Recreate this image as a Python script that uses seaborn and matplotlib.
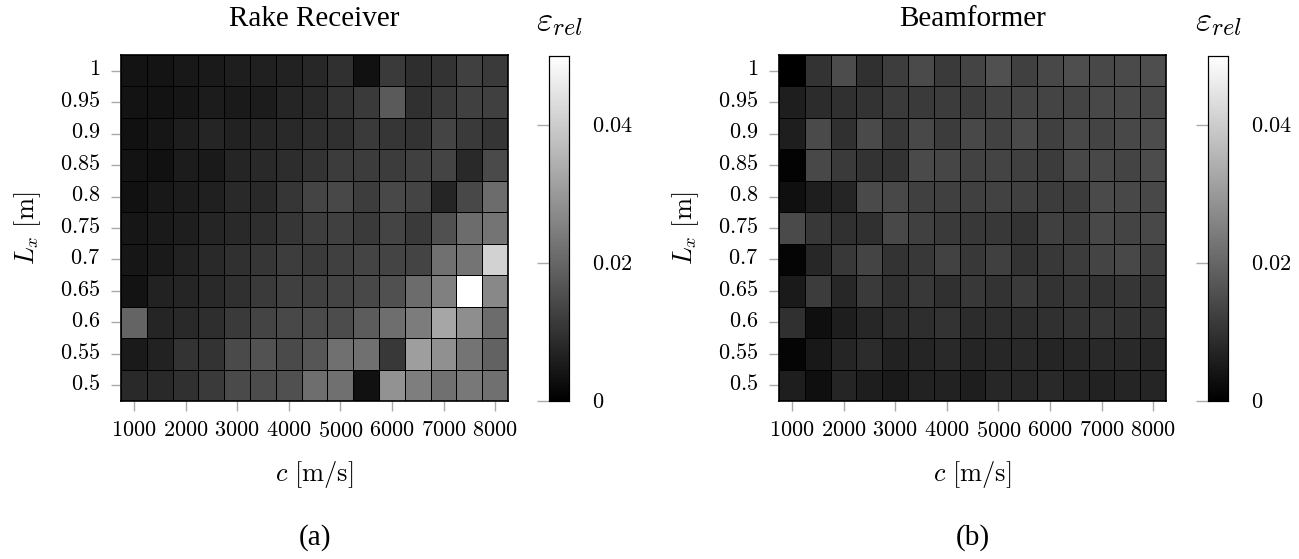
import numpy as np
import pandas as pd
import matplotlib
matplotlib.use('Agg')
import matplotlib.pyplot as plt
import seaborn as sns

# speed of sound c [m/s] and length L_x [m]
c_vals = [1000, 1500, 2000, 2500, 3000, 3500, 4000, 4500, 5000, 5500, 6000, 6500, 7000, 7500, 8000]
lx_vals = ['1', '0.95', '0.9', '0.85', '0.8', '0.75', '0.7', '0.65', '0.6', '0.55', '0.5']
xtick_labels = ['1000', '2000', '3000', '4000', '5000', '6000', '7000', '8000']
cbar_ticks = [0, 0.02, 0.04]
cbar_labels = ['0', '0.02', '0.04']

# relative error (x 1e-3), rows from L_x = 1 down to 0.5
rake_err = [
    [3.9, 4.1, 4.7, 5.1, 5.9, 6.3, 6.7, 7.8, 9.4, 3.5, 11.4, 9.0, 10.0, 12.5, 11.4],
    [3.9, 3.9, 4.3, 5.5, 5.1, 5.5, 7.3, 8.2, 10.0, 11.4, 17.6, 9.4, 11.4, 12.5, 12.5],
    [3.5, 4.3, 5.9, 7.3, 6.7, 7.5, 8.2, 9.0, 9.4, 11.4, 10.6, 10.0, 13.3, 11.4, 10.4],
    [3.9, 3.5, 5.5, 5.1, 7.3, 8.2, 8.8, 10.0, 11.8, 11.8, 11.8, 12.5, 13.3, 8.2, 14.5],
    [3.5, 4.7, 5.5, 6.3, 8.2, 8.2, 10.6, 13.3, 14.1, 12.0, 14.1, 13.3, 7.3, 14.1, 21.2],
    [4.3, 5.1, 5.9, 7.3, 8.2, 9.0, 10.6, 12.0, 12.5, 11.4, 13.3, 11.4, 15.7, 21.2, 22.7],
    [4.3, 5.1, 6.7, 8.2, 9.4, 10.6, 12.0, 11.4, 12.5, 13.3, 13.3, 13.3, 22.0, 22.7, 41.2],
    [3.9, 6.7, 7.3, 8.2, 9.4, 11.4, 12.5, 12.5, 13.3, 14.1, 15.7, 21.2, 25.1, 50.0, 26.7],
    [19.6, 7.3, 8.2, 9.0, 11.4, 13.3, 14.1, 14.5, 14.9, 18.0, 21.6, 24.3, 32.5, 27.8, 21.2],
    [5.1, 6.7, 10.0, 10.0, 14.5, 16.1, 14.5, 16.9, 22.0, 22.0, 11.0, 31.0, 28.2, 22.7, 19.2],
    [8.2, 8.2, 9.4, 11.4, 14.5, 14.9, 15.7, 21.6, 22.0, 3.5, 28.6, 24.7, 22.0, 23.5, 22.0],
]

beam_err = [
    [0.0, 10.0, 14.9, 9.4, 12.0, 14.5, 11.4, 13.3, 15.7, 12.5, 14.1, 15.3, 14.1, 14.5, 15.3],
    [5.9, 8.6, 9.4, 10.0, 11.4, 11.4, 11.8, 11.8, 12.9, 13.3, 13.3, 13.3, 14.1, 14.1, 14.1],
    [5.9, 14.5, 9.4, 14.5, 11.0, 14.1, 11.8, 14.1, 12.9, 14.5, 12.5, 14.1, 13.3, 14.1, 14.9],
    [0.6, 14.1, 11.4, 10.0, 10.0, 14.5, 13.7, 12.9, 13.3, 12.5, 11.8, 14.1, 14.1, 13.3, 14.9],
    [3.1, 5.9, 7.3, 14.5, 14.1, 12.5, 12.5, 12.5, 12.9, 12.5, 11.8, 11.8, 14.5, 14.1, 14.1],
    [14.5, 11.0, 9.4, 9.4, 14.1, 12.5, 11.4, 11.0, 11.0, 10.0, 12.5, 11.8, 14.1, 13.3, 14.1],
    [1.0, 7.8, 11.0, 13.3, 10.0, 11.0, 12.9, 11.0, 12.5, 10.0, 11.0, 11.8, 13.3, 14.1, 12.5],
    [5.1, 11.8, 7.8, 11.4, 9.4, 11.0, 9.4, 11.0, 10.0, 11.4, 10.0, 10.6, 10.0, 10.6, 10.6],
    [9.4, 3.1, 5.9, 7.8, 8.6, 9.0, 10.0, 8.6, 9.0, 9.0, 9.4, 10.0, 10.6, 10.0, 10.0],
    [1.0, 4.7, 7.3, 8.6, 6.7, 7.3, 8.2, 7.3, 7.8, 8.2, 7.3, 7.8, 8.2, 8.2, 7.8],
    [5.9, 3.1, 7.3, 5.9, 5.1, 6.7, 6.7, 5.9, 7.8, 7.8, 8.2, 7.3, 6.7, 7.3, 7.3],
]

titles = ['Rake Receiver', 'Beamformer']
captions = ['(a)', '(b)']

plt.rcParams['font.family'] = ['Liberation Serif', 'DejaVu Serif']
plt.rcParams['mathtext.fontset'] = 'cm'

fig = plt.figure(figsize=(12.99, 5.59), dpi=100)
W, H = 1299, 559

def box(x0, y0, x1, y1):
    return [x0 / W, 1 - y1 / H, (x1 - x0) / W, (y1 - y0) / H]

panels = [
    (box(121, 55, 508, 401), box(549, 56, 569, 401)),
    (box(779, 55, 1166, 401), box(1208, 56, 1228, 401)),
]

def m(s):
    return '$' + s + '$'

for k, data in enumerate([rake_err, beam_err]):
    df = pd.DataFrame(np.array(data) * 1e-3, index=lx_vals, columns=c_vals)
    ax = fig.add_axes(panels[k][0])
    cax = fig.add_axes(panels[k][1])
    sns.heatmap(df, ax=ax, cmap='gray', vmin=0, vmax=0.05,
                linewidths=0.6, linecolor='black', cbar_ax=cax,
                cbar_kws={'ticks': cbar_ticks})

    ax.set_xticks(np.arange(0, len(c_vals), 2) + 0.5)
    ax.set_xticklabels([m(s) for s in xtick_labels], rotation=0, fontsize=16)
    ax.set_yticks(np.arange(len(lx_vals)) + 0.5)
    ax.set_yticklabels([m(s) for s in lx_vals], rotation=0, fontsize=16)
    ax.tick_params(direction='out', length=7, width=1, color='#aaaaaa', pad=8)
    for s in ax.spines.values():
        s.set_visible(True)
        s.set_color('black')
        s.set_linewidth(1.2)
    ax.set_xlabel(r'$c\ [\mathrm{m/s}]$', fontsize=19, labelpad=12)
    ax.set_ylabel(r'$L_x\ [\mathrm{m}]$', fontsize=19, labelpad=12)
    ax.set_title(titles[k], fontsize=21, pad=21)

    cax.set_yticklabels([m(s) for s in cbar_labels])
    cax.tick_params(left=True, right=False, labelleft=False, labelright=True,
                    direction='out', length=8.5, width=1, color='#aaaaaa',
                    labelsize=16, pad=8)
    for s in cax.spines.values():
        s.set_visible(True)
        s.set_color('black')
        s.set_linewidth(0.8)
    cax.set_title(r'$\varepsilon_{rel}$', fontsize=25, pad=19)

    cx = panels[k][0][0] + panels[k][0][2] / 2
    fig.text(cx, 1 - 538 / H, captions[k], ha='center', va='center', fontsize=21)

fig.savefig('out.png', dpi=100)
